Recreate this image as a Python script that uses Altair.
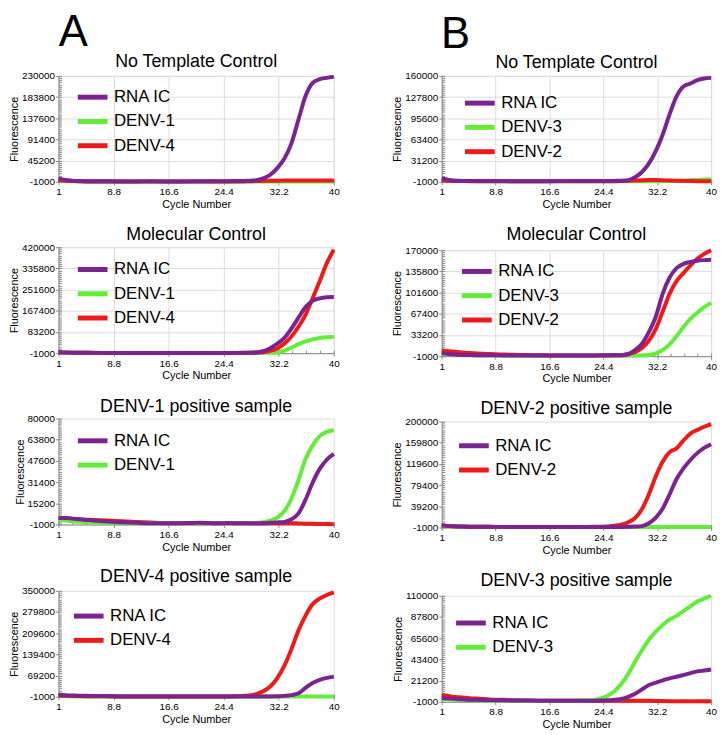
import altair as alt
import numpy as np
import pandas as pd

# ---------------- data ----------------
CYCLES = [1, 2, 3, 4, 5, 6, 8, 10, 12, 14, 16, 18, 20, 21, 22, 23, 24, 25, 26, 27, 28,
          29, 30, 31, 32, 33, 34, 35, 36, 37, 38, 39, 40]
X_TICKS = [1, 8.8, 16.6, 24.4, 32.2, 40]

PURPLE = "#7B2390"
GREEN = "#62EE38"
RED = "#EE1A1A"
COLORS = {"RNA IC": PURPLE, "DENV-1": GREEN, "DENV-3": GREEN, "DENV-2": RED, "DENV-4": RED}
DRAW_RANK = {GREEN: 0, RED: 1, PURPLE: 2}

# Panel A1 - No Template Control
A1_YTICKS = [-1000, 45200, 91400, 137600, 183800, 230000]
A1_RNA_IC = [6000, 3000, 1500, 800, 500, 300, 200, 0, 0, 100, 0, 0, 100,
             200, 300, 300, 400, 500, 700, 1000, 1500,
             2500, 6500, 14500, 29000, 50000, 83000, 135000, 186000, 215000, 223000, 225800, 228500]
A1_DENV1 = [2000, 800, 300, 0, 0, 0, 0, 0, 0, 0, 0, 0, 0,
            0, 0, 0, 0, 0, 0, 0, 0,
            0, 0, 0, 0, 0, 0, 0, 0, 0, 0, 0, 0]
A1_DENV4 = [3000, 1500, 800, 300, 0, 0, 0, 0, 0, 0, 0, 0, 0,
            0, 0, 0, 0, 0, 0, 0, 300,
            600, 1000, 1500, 1500, 1800, 1800, 1800, 2000, 2000, 2000, 2000, 2000]

# Panel B1 - No Template Control
B1_YTICKS = [-1000, 31200, 63400, 95600, 127800, 160000]
B1_RNA_IC = [4100, 2000, 800, 500, 400, 300, 200, 100, 0, 0, 0, 100, 200,
             300, 300, 200, 300, 400, 500, 700, 1500,
             6000, 14000, 27000, 46000, 71000, 102000, 129000, 144000, 148500, 153500, 156000, 157000]
B1_DENV3 = [3000, 1500, 800, 400, 200, 0, 0, 0, 0, 0, 0, 0, 0,
            0, 0, 0, 0, 0, 0, 0, 0,
            0, 0, 0, 0, 200, 500, 800, 1000, 1500, 2000, 2500, 3000]
B1_DENV2 = [1500, 800, 400, 200, 0, 0, 0, 0, 0, 0, 0, 0, 0,
            0, 0, 0, 0, 0, 0, 200, 500,
            1000, 1500, 1800, 1800, 1500, 1000, 800, 500, 300, 0, 0, 0]

# Panel A2 - Molecular Control
A2_YTICKS = [-1000, 83200, 167400, 251600, 335800, 420000]
A2_RNA_IC = [3000, 2000, 1200, 800, 500, 300, 200, 0, 0, 0, 0, 0, 0,
             0, 0, 0, 0, 100, 200, 400, 1000,
             2500, 7000, 19000, 37000, 60000, 97000, 140000, 182000, 207000, 217000, 221000, 222000]
A2_DENV1 = [2000, 1200, 800, 500, 300, 200, 0, 0, 0, 0, 0, 0, 0,
            0, 0, 0, 0, 0, 0, 0, 0,
            0, 200, 500, 2000, 9000, 21000, 35000, 46000, 54000, 59500, 62500, 63500]
A2_DENV4 = [2000, 1200, 800, 500, 300, 200, 0, 0, 0, 0, 0, 0, 0,
            0, 0, 0, 0, 0, 0, 200, 500,
            1000, 3000, 8000, 18000, 37000, 65000, 104000, 151000, 217000, 285000, 356000, 410000]

# Panel B2 - Molecular Control
B2_YTICKS = [-1000, 33200, 67400, 101600, 135800, 170000]
B2_RNA_IC = [4300, 2500, 1500, 1000, 700, 500, 300, 200, 100, 0, 0, 0, 100,
             100, 200, 200, 300, 300, 400, 500, 2000,
             9000, 19000, 38000, 63000, 100000, 126000, 141000, 148000, 151000, 153000, 154000, 154500]
B2_DENV3 = [3000, 2000, 1500, 1000, 800, 600, 400, 200, 100, 0, 0, 0, 0,
            0, 0, 0, 0, 0, 0, 0, 0,
            0, 300, 800, 3500, 9000, 18000, 31000, 46000, 59000, 69000, 78000, 85000]
B2_DENV2 = [8000, 7000, 6000, 5000, 4000, 3500, 2500, 1500, 1000, 600, 300, 0, 0,
            0, 0, 0, 100, 200, 300, 500, 2500,
            5500, 12000, 24000, 43000, 71000, 100000, 120000, 133000, 145000, 156000, 164000, 170000]

# Panel A3 - DENV-1 positive sample
A3_YTICKS = [-1000, 15200, 31400, 47600, 63800, 80000]
A3_RNA_IC = [4000, 4000, 3500, 3000, 2500, 2000, 1200, 700, 300, 0, 0, 0, 200,
             300, 200, 0, 0, 100, 0, 0, 0,
             0, 0, 300, 600, 1000, 3000, 7500, 18000, 31000, 41500, 48500, 53000]
A3_DENV1 = [2500, 2000, 1500, 1000, 800, 500, 200, 0, 0, 0, 0, 0, 0,
            0, 0, 0, 0, 0, 0, 0, 0,
            300, 800, 2000, 4300, 9300, 18700, 33000, 49000, 59500, 66500, 69800, 71000]
A3_DENV4_BG = [3000, 3000, 2900, 2800, 2600, 2400, 2000, 1500, 1000, 500, 0, 0, 0,
               0, 0, 0, 0, 0, 0, 0, 0,
               0, 0, 0, 0, 0, 0, -200, -400, -500, -600, -700, -800]

# Panel B3 - DENV-2 positive sample
B3_YTICKS = [-1000, 39200, 79400, 119600, 159800, 200000]
B3_RNA_IC = [3400, 2000, 1200, 800, 500, 300, 200, 100, 0, 0, 0, 0, 0,
             0, 0, 0, 0, 0, 0, 0, 300,
             700, 1500, 7000, 17500, 35000, 62000, 91000, 111000, 127000, 140000, 150000, 157000]
B3_DENV2 = [2500, 1500, 1000, 800, 500, 300, 200, 100, 0, 0, 0, 0, 0,
            100, 100, 200, 500, 1000, 2200, 4500, 9000,
            17000, 34000, 62000, 96000, 124000, 142000, 149000, 164000, 177000, 184000, 190000, 195000]
B3_DENV3_BG = [1500, 800, 400, 200, 0, 0, 0, 0, 0, 0, 0, 0, 0,
               0, 0, 0, 0, 0, 0, 0, 0,
               0, 0, 0, 0, 0, 0, 0, 0, 0, 0, 0, 0]

# Panel A4 - DENV-4 positive sample
A4_YTICKS = [-1000, 69200, 139400, 209600, 279800, 350000]
A4_RNA_IC = [6000, 4000, 3000, 2500, 2200, 2000, 1000, 0, 0, 0, 0, 0, 0,
             0, 0, 0, 0, 0, 0, 0, 0,
             0, 0, 0, 500, 2000, 4500, 11000, 28500, 45000, 55000, 61500, 66000]
A4_DENV4 = [3000, 2000, 1500, 1200, 1000, 800, 500, 300, 0, 0, 0, 0, 0,
            0, 0, 0, 0, 200, 1000, 2000, 3500,
            8000, 17000, 33000, 61000, 102000, 157000, 219000, 268000, 306000, 324000, 336000, 345000]
A4_DENV1_BG = [2000, 1000, 500, 0, 0, 0, 0, 0, 0, 0, 0, 0, 0,
               0, 0, 0, 0, 0, 0, 0, 0,
               0, 0, 0, 0, 0, 0, 0, 0, 0, 0, 0, 0]

# Panel B4 - DENV-3 positive sample
B4_YTICKS = [-1000, 21200, 43400, 65600, 87800, 110000]
B4_RNA_IC = [3000, 2500, 2000, 1500, 1200, 1000, 700, 500, 300, 200, 100, 0, 0,
             0, 0, 0, 200, 600, 1000, 2000, 4200,
             7500, 12000, 16500, 19000, 21500, 23500, 25200, 27000, 29000, 30800, 31700, 32800]
B4_DENV3 = [2000, 1500, 1000, 700, 500, 300, 200, 100, 0, 0, 0, 0, 100,
            200, 400, 800, 2500, 5200, 10000, 17500, 28000,
            41000, 53000, 64000, 72500, 79500, 85000, 89000, 94000, 99000, 104000, 107000, 110000]
B4_DENV2_BG = [6000, 5000, 4000, 3500, 2800, 2300, 1500, 1000, 500, 300, 0, 0, 0,
               0, 0, 0, 0, 0, 0, 0, 0,
               0, 0, 0, -200, -300, -400, -500, -500, -500, -500, -500, -500]

FONT = "Liberation Sans"
LW = 4


def frame(series):
    rows = []
    for name, vals in series:
        for c, v in zip(CYCLES, vals):
            rows.append({"cycle": c, "value": v, "series": name})
    return pd.DataFrame(rows)


def panel(title, series, yticks, width, height, leg_x, leg_y, background=None):
    ymax = yticks[-1]
    ymin = yticks[0]
    xsc = alt.Scale(domain=[1, 40], nice=False, zero=False)
    ysc = alt.Scale(domain=[ymin, ymax], nice=False, zero=False)
    names = [s[0] for s in series]
    # drawing order: green, red, then RNA IC on top
    df = frame(sorted(series, key=lambda s: DRAW_RANK[COLORS[s[0]]]))

    main = alt.Chart(df).mark_line(strokeWidth=LW, interpolate="monotone").encode(
        x=alt.X("cycle:Q", scale=xsc,
                axis=alt.Axis(orient="bottom", values=X_TICKS, labelExpr="'' + datum.value",
                              title="Cycle Number", titleFontWeight="normal",
                              labelFlush=False, labelOverlap=False,
                              tickSize=3, labelPadding=2, titlePadding=2)),
        y=alt.Y("value:Q", scale=ysc,
                axis=alt.Axis(orient="left", values=yticks, labelExpr="'' + datum.value",
                              title="Fluorescence", titleFontWeight="normal",
                              labelFlush=False, labelOverlap=False,
                              tickSize=3, labelPadding=1, titlePadding=2)),
        color=alt.Color("series:N",
                        scale=alt.Scale(domain=names, range=[COLORS[n] for n in names]),
                        legend=alt.Legend(orient="none", legendX=leg_x, legendY=leg_y,
                                          title=None, labelFontSize=17, labelFont=FONT,
                                          labelColor="black", symbolType="M-1.5,0L1.5,0",
                                          symbolSize=400, symbolStrokeWidth=5,
                                          labelOffset=9, rowPadding=1.5, padding=0)),
        order=alt.Order("cycle:Q"),
    )

    minor = alt.Chart(df).mark_point(opacity=0).encode(
        x=alt.X("cycle:Q", scale=xsc,
                axis=alt.Axis(orient="bottom", values=list(np.linspace(1, 40, 21)),
                              labels=False, domain=False, tickSize=3, offset=-3,
                              title=None, grid=False)),
        y=alt.Y("value:Q", scale=ysc,
                axis=alt.Axis(orient="left", values=list(np.linspace(ymin, ymax, 51)),
                              labels=False, domain=False, tickSize=3, offset=-3,
                              title=None, grid=False)),
    )

    layers = []
    if background is not None:
        bname, bvals, bcolor = background
        bdf = frame([(bname, bvals)])
        layers.append(alt.Chart(bdf).mark_line(strokeWidth=LW, interpolate="monotone",
                                               color=bcolor).encode(
            x=alt.X("cycle:Q", scale=xsc, axis=None),
            y=alt.Y("value:Q", scale=ysc, axis=None),
        ))
    layers += [main, minor]
    return alt.layer(*layers).resolve_axis(x="independent", y="independent").properties(
        width=width, height=height,
        title=alt.TitleParams(title, fontSize=18, font=FONT, fontWeight="normal",
                              anchor="middle", offset=-2, color="black"),
    )


WA, WB, H = 278, 272, 107

col_a = alt.vconcat(
    panel("No Template Control",
          [("RNA IC", A1_RNA_IC), ("DENV-1", A1_DENV1), ("DENV-4", A1_DENV4)],
          A1_YTICKS, WA, H, 22, 9),
    panel("Molecular Control",
          [("RNA IC", A2_RNA_IC), ("DENV-1", A2_DENV1), ("DENV-4", A2_DENV4)],
          A2_YTICKS, WA, H, 22, 10),
    panel("DENV-1 positive sample",
          [("RNA IC", A3_RNA_IC), ("DENV-1", A3_DENV1)],
          A3_YTICKS, WA, H, 22, 10, background=("DENV-4", A3_DENV4_BG, RED)),
    panel("DENV-4 positive sample",
          [("RNA IC", A4_RNA_IC), ("DENV-4", A4_DENV4)],
          A4_YTICKS, WA, H, 18, 13, background=("DENV-1", A4_DENV1_BG, GREEN)),
    spacing=15,
    title=alt.TitleParams("A", fontSize=44, font=FONT, fontWeight="normal",
                          anchor="start", color="black", offset=-3, dx=51, baseline="top"),
).resolve_scale(color="independent")

col_b = alt.vconcat(
    panel("No Template Control",
          [("RNA IC", B1_RNA_IC), ("DENV-3", B1_DENV3), ("DENV-2", B1_DENV2)],
          B1_YTICKS, WB, H, 26, 15),
    panel("Molecular Control",
          [("RNA IC", B2_RNA_IC), ("DENV-3", B2_DENV3), ("DENV-2", B2_DENV2)],
          B2_YTICKS, WB, H, 23, 9),
    panel("DENV-2 positive sample",
          [("RNA IC", B3_RNA_IC), ("DENV-2", B3_DENV2)],
          B3_YTICKS, WB, H, 20, 12, background=("DENV-3", B3_DENV3_BG, GREEN)),
    panel("DENV-3 positive sample",
          [("RNA IC", B4_RNA_IC), ("DENV-3", B4_DENV3)],
          B4_YTICKS, WB, H, 17, 15, background=("DENV-2", B4_DENV2_BG, RED)),
    spacing=15,
    title=alt.TitleParams("B", fontSize=44, font=FONT, fontWeight="normal",
                          anchor="start", color="black", offset=-3, dx=50, baseline="top"),
).resolve_scale(color="independent")

chart = alt.hconcat(col_a, col_b, spacing=49, padding=0).resolve_scale(
    color="independent").configure_axis(
    labelFont=FONT, labelFontSize=8.5, labelColor="#222", tickColor="#444",
    domainColor="#444", titleFont=FONT, titleFontSize=9, titleFontWeight="normal",
    titleColor="#333", grid=False,
).configure_view(stroke="#555", strokeWidth=1).configure(background="white")

chart.save("out.html", embed_options={"renderer": "svg", "actions": False})
